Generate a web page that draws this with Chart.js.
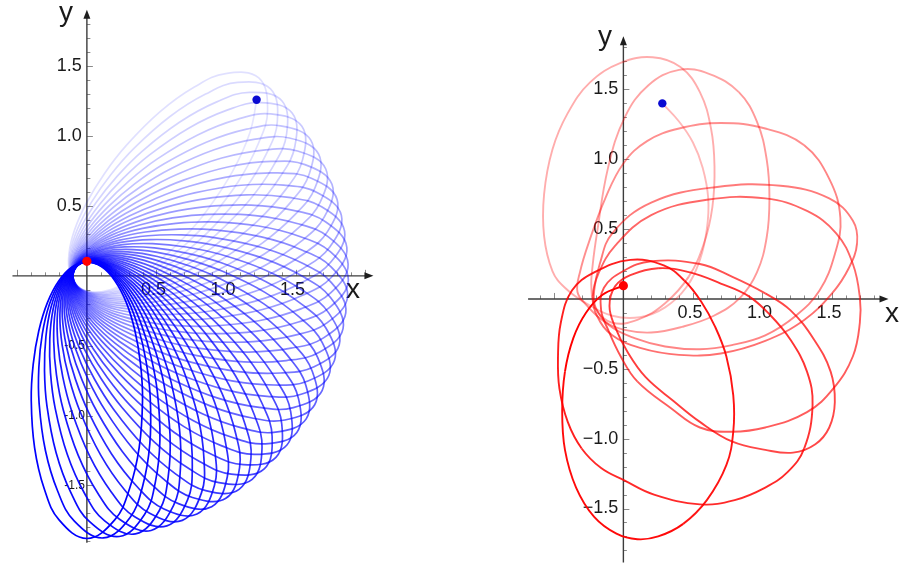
<!DOCTYPE html>
<html>
<head>
<meta charset="utf-8">
<script src="https://cdn.jsdelivr.net/npm/chart.js@4/dist/chart.umd.min.js"></script>
<style>
  html, body { margin: 0; padding: 0; background: #fff; }
  #wrap { position: relative; width: 901px; height: 569px; }
  #left { position: absolute; left: 0; top: 0; }
  #right { position: absolute; left: 450px; top: 0; }
</style>
</head>
<body>
<div id="wrap">
  <canvas id="left" width="450" height="569"></canvas>
  <canvas id="right" width="451" height="569"></canvas>
</div>
<script>
const loopX = [0, 0.104, 0.20, 0.283, 0.346, 0.386, 0.40, 0.376, 0.306, 0.20, 0, -0.20, -0.306, -0.376, -0.40, -0.386, -0.346, -0.283, -0.20, -0.104, 0];
const loopY = [0.10, 0.066, -0.033, -0.190, -0.395, -0.634, -0.89, -1.229, -1.526, -1.747, -1.88, -1.747, -1.526, -1.229, -0.89, -0.634, -0.395, -0.190, -0.033, 0.066, 0.10];
// direction of the far end of each loop (degrees), first (faint) to last (solid)
const apsisAngles = [52.5, 48.9, 45.4, 41.8, 38.3, 34.7, 31.1, 27.6, 24.0, 20.4, 16.9, 13.3, 9.8, 6.2,
  2.6, -0.9, -4.5, -8.1, -11.6, -15.2, -18.8, -22.3, -25.9, -29.4, -33.0, -36.6, -40.1, -43.7,
  -47.3, -50.8, -54.4, -57.9, -61.5, -65.1, -68.6, -72.2, -75.8, -79.3, -82.9, -86.4, -90.0];
const firstLoopStart = 11;          // first loop starts part way round, at the blue dot
const leftStart = [1.22, 1.26];
const leftEnd = [0, 0.104];

// ---- right panel: trajectory read point by point, one array per swing
const swing0 = [[0.28,1.40],[0.40,1.27],[0.50,1.12],[0.57,0.94],[0.61,0.72],[0.60,0.50],[0.55,0.28],[0.45,0.08],[0.30,-0.06],[0.12,-0.13],[-0.08,-0.12],[-0.27,-0.03],[-0.42,0.08]];
const swing1 = [[-0.51,0.20],[-0.57,0.45],[-0.57,0.75],[-0.51,1.07],[-0.40,1.33],[-0.24,1.55],[-0.02,1.69],[0.21,1.73],[0.41,1.66],[0.55,1.48],[0.63,1.22],[0.655,0.95],[0.64,0.66],[0.58,0.40],[0.47,0.16],[0.30,-0.03],[0.10,-0.15],[-0.08,-0.17],[-0.20,-0.07],[-0.23,0.08]];
const swing2 = [[-0.22,0.25],[-0.19,0.47],[-0.11,0.94],[0.01,1.30],[0.18,1.53],[0.40,1.64],[0.62,1.61],[0.83,1.48],[0.96,1.27],[1.03,1.00],[1.05,0.72],[1.03,0.44],[0.96,0.19],[0.84,0.01],[0.65,-0.12],[0.42,-0.20],[0.20,-0.24],[0.0,-0.22],[-0.14,-0.16],[-0.26,-0.05],[-0.33,0.05]];
const swing3 = [[-0.31,0.20],[-0.25,0.40],[-0.13,0.72],[0.0,0.97],[0.17,1.13],[0.40,1.22],[0.70,1.26],[1.02,1.22],[1.30,1.10],[1.48,0.86],[1.56,0.58],[1.52,0.32],[1.41,0.06],[1.24,-0.12],[1.02,-0.26],[0.78,-0.33],[0.55,-0.36],[0.30,-0.34],[0.08,-0.28],[-0.10,-0.19],[-0.20,-0.06],[-0.21,0.06]];
const swing4 = [[-0.17,0.25],[-0.08,0.47],[0.20,0.69],[0.66,0.80],[1.13,0.81],[1.48,0.72],[1.65,0.56],[1.68,0.40],[1.62,0.22],[1.50,0.04],[1.30,-0.15],[1.02,-0.30],[0.70,-0.39],[0.40,-0.40],[0.12,-0.35],[-0.08,-0.26],[-0.19,-0.12],[-0.22,0.02]];
const swing5 = [[-0.18,0.18],[-0.06,0.38],[0.20,0.60],[0.60,0.71],[1.02,0.72],[1.32,0.63],[1.53,0.47],[1.65,0.25],[1.70,0.01],[1.70,-0.17],[1.65,-0.41],[1.51,-0.64],[1.32,-0.81],[1.02,-0.92],[0.78,-0.95],[0.55,-0.92],[0.34,-0.78],[0.10,-0.59],[-0.02,-0.41],[-0.11,-0.22],[-0.16,-0.08],[-0.14,0.08]];
const swing6 = [[0.0,0.20],[0.20,0.27],[0.55,0.25],[0.78,0.16],[1.02,0.04],[1.20,-0.08],[1.37,-0.29],[1.49,-0.52],[1.52,-0.74],[1.48,-0.92],[1.38,-1.04],[1.22,-1.10],[1.02,-1.08],[0.78,-1.02],[0.55,-0.88],[0.36,-0.73],[0.16,-0.56],[0.03,-0.38],[-0.06,-0.20],[-0.10,-0.05],[-0.06,0.09]];
const swing7 = [[0.05,0.17],[0.25,0.22],[0.48,0.19],[0.70,0.11],[0.90,0.02],[1.06,-0.12],[1.20,-0.29],[1.32,-0.52],[1.36,-0.76],[1.30,-1.07],[1.18,-1.24],[1.02,-1.35],[0.80,-1.44],[0.55,-1.47],[0.22,-1.40],[0.01,-1.30],[-0.16,-1.21],[-0.30,-1.07],[-0.40,-0.88],[-0.46,-0.64],[-0.47,-0.41],[-0.45,-0.17],[-0.37,0.06],[-0.21,0.19],[0.05,0.28],[0.29,0.24],[0.44,0.13],[0.56,-0.02]];
const swing8 = [[0.66,-0.20],[0.74,-0.41],[0.79,-0.69],[0.79,-0.95],[0.74,-1.19],[0.60,-1.44],[0.43,-1.61],[0.25,-1.70],[0.10,-1.72],[-0.05,-1.68],[-0.21,-1.56],[-0.34,-1.35],[-0.42,-1.08],[-0.44,-0.80],[-0.42,-0.52],[-0.36,-0.28],[-0.27,-0.10],[-0.15,0.03],[0.0,0.095]];
const rightStart = [0.28, 1.40];
const rightEnd = [0, 0.095];

// ---- axes and ticks
const tickLabels = [0.5, 1.0, 1.5];
const leftYLabels = [1.5, 1.0, 0.5];
const leftYNegLabels = [-0.5, -1.0, -1.5];
const rightYLabels = [1.5, 1.0, 0.5, -0.5, -1.0, -1.5];
const leftAxisX = [-0.535, 2.06], leftAxisY = [-1.91, 1.905];
const rightAxisX = [-0.685, 1.906], rightAxisY = [-1.886, 1.88];

const axesPlugin = {
  id: 'axes',
  beforeDatasetsDraw(chart, args, o) {
    const ctx = chart.ctx;
    const X = v => chart.scales.x.getPixelForValue(v);
    const Y = v => chart.scales.y.getPixelForValue(v);
    const x0 = X(0), y0 = Y(0);
    ctx.save();
    // ticks: x ticks point up, y ticks point right
    ctx.strokeStyle = '#8a8a8a';
    ctx.lineWidth = 1;
    for (let i = Math.ceil(o.xAxis[0] * 10); i <= Math.floor(o.xAxis[1] * 10 - 0.5); i++) {
      if (i === 0) continue;
      const p = Math.round(X(i / 10)) + 0.5, len = i % 5 === 0 ? 6 : 3.5;
      ctx.beginPath(); ctx.moveTo(p, y0); ctx.lineTo(p, y0 - len); ctx.stroke();
    }
    for (let i = Math.ceil(o.yAxis[0] * 10); i <= Math.floor(o.yAxis[1] * 10 - 0.5); i++) {
      if (i === 0) continue;
      const p = Math.round(Y(i / 10)) + 0.5, len = i % 5 === 0 ? 6 : 3.5;
      ctx.beginPath(); ctx.moveTo(x0, p); ctx.lineTo(x0 + len, p); ctx.stroke();
    }
    // axis lines
    ctx.strokeStyle = '#3c3c3c';
    ctx.lineWidth = 1.4;
    const xEnd = X(o.xAxis[1]), yEnd = Y(o.yAxis[1]);
    ctx.beginPath(); ctx.moveTo(X(o.xAxis[0]), y0); ctx.lineTo(xEnd - 6, y0); ctx.stroke();
    ctx.beginPath(); ctx.moveTo(x0, Y(o.yAxis[0])); ctx.lineTo(x0, yEnd + 6); ctx.stroke();
    ctx.fillStyle = '#1e1e1e';
    ctx.beginPath(); ctx.moveTo(xEnd, y0); ctx.lineTo(xEnd - 9, y0 - 3.5); ctx.lineTo(xEnd - 9, y0 + 3.5); ctx.closePath(); ctx.fill();
    ctx.beginPath(); ctx.moveTo(x0, yEnd); ctx.lineTo(x0 - 3.5, yEnd + 9); ctx.lineTo(x0 + 3.5, yEnd + 9); ctx.closePath(); ctx.fill();
    // tick labels
    ctx.fillStyle = '#1a1a1a';
    ctx.font = '18px "Liberation Sans", Arial, sans-serif';
    ctx.textAlign = 'center'; ctx.textBaseline = 'top';
    o.xLabels.forEach(v => ctx.fillText(v.toFixed(1), X(v) - 3, y0 + 5));
    ctx.textAlign = 'right'; ctx.textBaseline = 'middle';
    o.yLabels.forEach(v => ctx.fillText(v < 0 ? '\u2212' + (-v).toFixed(1) : v.toFixed(1), x0 - 5, Y(v)));
    if (o.ySmallLabels) {
      ctx.font = '12px "Liberation Sans", Arial, sans-serif';
      o.ySmallLabels.forEach(v => ctx.fillText(v.toFixed(1), x0 - 2, Y(v)));
    }
    // axis names
    ctx.font = '28px "Liberation Sans", Arial, sans-serif';
    ctx.textAlign = 'center'; ctx.textBaseline = 'middle';
    ctx.fillText('x', o.xName[0], o.xName[1]);
    ctx.fillText('y', o.yName[0], o.yName[1]);
    ctx.restore();
  }
};

// left trajectory: the read loop turned to each apsis direction in turn
const leftPts = [], leftLoop = [];
apsisAngles.forEach((deg, k) => {
  const r = (deg + 90) * Math.PI / 180, c = Math.cos(r), s = Math.sin(r);
  for (let j = (k === 0 ? firstLoopStart : 1); j < loopX.length; j++) {
    leftPts.push({ x: loopX[j] * c - loopY[j] * s, y: loopX[j] * s + loopY[j] * c });
    leftLoop.push(k);
  }
});
const nLoops = apsisAngles.length;
const blueAlpha = k => 0.1 + 0.9 * k / (nLoops - 1);

const rightPts = [swing0, swing1, swing2, swing3, swing4, swing5, swing6, swing7, swing8]
  .flat().map(p => ({ x: p[0], y: p[1] }));
const redAlpha = i => {
  const a = 0.28 + 0.72 * Math.pow(i / (rightPts.length - 1), 1.3);
  return Math.round(a * 25) / 25;
};

function makeChart(id, cfg) {
  return new Chart(document.getElementById(id), {
    type: 'scatter',
    data: {
      datasets: [
        { data: [{ x: cfg.start[0], y: cfg.start[1] }], pointRadius: 4.2, pointBackgroundColor: '#0a0ad2', pointBorderWidth: 0, order: 0 },
        { data: [{ x: cfg.end[0], y: cfg.end[1] }], pointRadius: 4.6, pointBackgroundColor: '#ff0000', pointBorderWidth: 0, order: 0 },
        {
          data: cfg.points, showLine: true, pointRadius: 0, borderWidth: cfg.width, tension: 0.4,
          borderColor: cfg.color(cfg.points.length - 1), segment: { borderColor: c => cfg.color(c.p1DataIndex) },
          order: 1
        }
      ]
    },
    options: {
      responsive: false, animation: false, events: [],
      layout: { padding: 0 },
      scales: {
        x: { type: 'linear', display: false, min: cfg.xRange[0], max: cfg.xRange[1] },
        y: { type: 'linear', display: false, min: cfg.yRange[0], max: cfg.yRange[1] }
      },
      plugins: { legend: { display: false }, tooltip: { enabled: false }, axes: cfg.axes }
    },
    plugins: [axesPlugin]
  });
}

makeChart('left', {
  points: leftPts, start: leftStart, end: leftEnd, width: 1.7,
  color: i => `rgba(0,0,255,${blueAlpha(leftLoop[i]).toFixed(3)})`,
  xRange: [-0.59155, 2.57746], yRange: [-2.06549, 1.94155],
  axes: { xAxis: leftAxisX, yAxis: leftAxisY, xLabels: tickLabels, yLabels: leftYLabels,
          ySmallLabels: leftYNegLabels, xName: [353, 290], yName: [66, 13] }
});

makeChart('right', {
  points: rightPts, start: rightStart, end: rightEnd, width: 1.9,
  color: i => `rgba(255,0,0,${redAlpha(i)})`,
  xRange: [-1.21338, 1.96268], yRange: [-1.9, 2.10704],
  axes: { xAxis: rightAxisX, yAxis: rightAxisY, xLabels: tickLabels, yLabels: rightYLabels,
          xName: [442, 314], yName: [155, 37] }
});
</script>
</body>
</html>
